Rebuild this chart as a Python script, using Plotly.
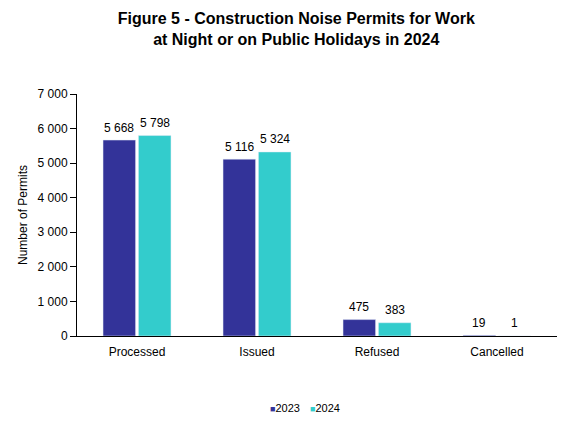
import plotly.graph_objects as go

categories = ["Processed", "Issued", "Refused", "Cancelled"]
values_2023 = [5668, 5116, 475, 19]
values_2024 = [5798, 5324, 383, 1]
series_names = ["2023", "2024"]
series_colors = ["#333399", "#33CCCC"]
tick_vals = [0, 1000, 2000, 3000, 4000, 5000, 6000, 7000]
tick_text = ["0", "1 000", "2 000", "3 000", "4 000", "5 000", "6 000", "7 000"]

def fmt(v):
    return f"{v:,}".replace(",", " ")

fig = go.Figure()
legend_ids = ["legend", "legend2"]
bar_shifts = [-17.7, 17.7]
for name, vals, color, lg, dx in zip(series_names, [values_2023, values_2024],
                                     series_colors, legend_ids, bar_shifts):
    fig.add_trace(go.Bar(
        x=categories, y=vals, name=name, marker_color=color,
        showlegend=False, hoverinfo="skip",
    ))
    fig.add_trace(go.Scatter(
        x=[None], y=[None], mode="markers", legend=lg,
        name=f"<span style='color:{color};font-size:9px'>■</span>{name}",
        marker=dict(size=1, color="rgba(0,0,0,0)"),
    ))
    for c, v in zip(categories, vals):
        fig.add_annotation(x=c, y=v, text=fmt(v), showarrow=False,
                           xshift=dx, yshift=12.5, yanchor="middle",
                           font=dict(family="Liberation Sans, Arial", size=12, color="#000"))

legend_common = dict(orientation="h", xref="container", xanchor="left",
                     yref="container", y=0.047, yanchor="middle",
                     font=dict(size=11), bgcolor="rgba(0,0,0,0)")

fig.update_layout(
    width=572, height=428,
    margin=dict(l=77, r=15, t=94, b=92, autoexpand=False),
    paper_bgcolor="white", plot_bgcolor="white",
    barmode="group", bargap=0.41, bargroupgap=0.08,
    font=dict(family="Liberation Sans, Arial", size=12, color="#000"),
    title=dict(
        text="<b>Figure 5 - Construction Noise Permits for Work<br>at Night or on Public Holidays in 2024</b>",
        x=0.518, xref="container", xanchor="center",
        y=0.944, yref="container", yanchor="top",
        font=dict(family="Liberation Sans, Arial", size=16, color="#000"),
    ),
    xaxis=dict(showline=True, linecolor="#000", linewidth=1, ticks="",
               tickfont=dict(size=12), showgrid=False, ticklabelstandoff=5),
    yaxis=dict(range=[0, 7000], tickvals=tick_vals, ticktext=tick_text,
               showline=True, linecolor="#000", linewidth=1, ticks="outside",
               ticklen=6, tickcolor="#000", showgrid=False, zeroline=False,
               tickfont=dict(size=12),
               title=dict(text="Number of Permits", font=dict(size=12), standoff=7)),
    legend=dict(x=230 / 572, **legend_common),
    legend2=dict(x=270 / 572, **legend_common),
)

fig.write_html("out.html", config={"displayModeBar": False},
               post_script="document.body.style.margin='0';")
